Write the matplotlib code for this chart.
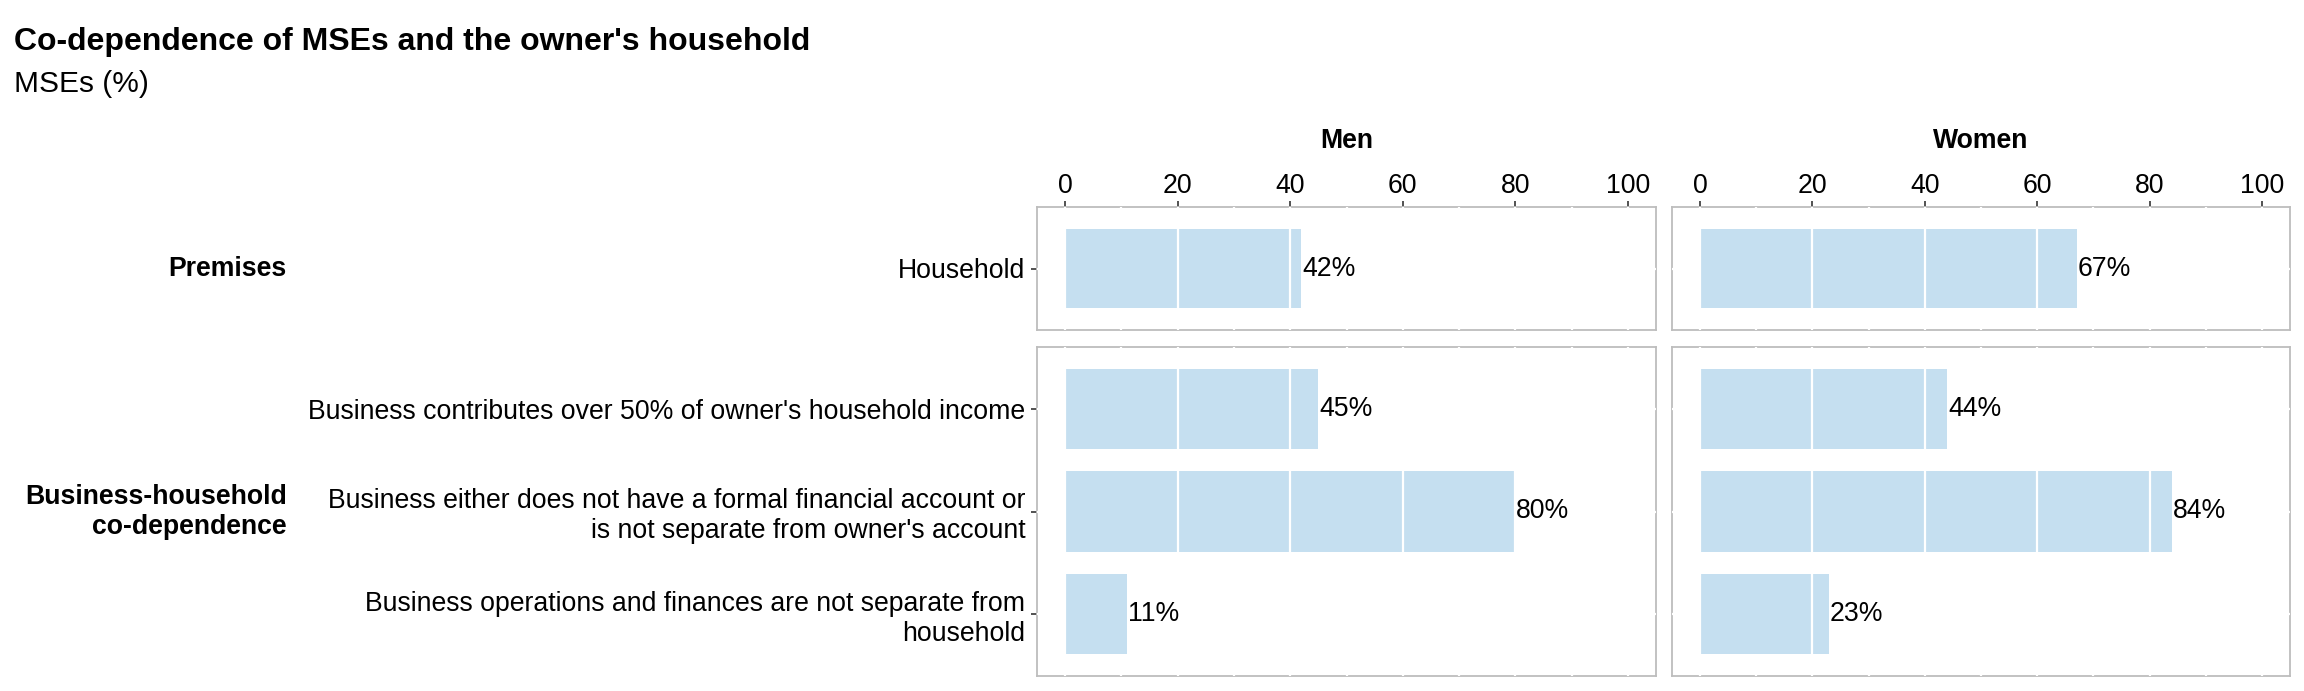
import numpy as np
import matplotlib
matplotlib.use("Agg")
import matplotlib.pyplot as plt

plt.rcParams["font.family"] = ["Liberation Sans", "DejaVu Sans"]

# data
categories = [
    "Household",
    "Business contributes over 50% of owner's household income",
    "Business either does not have a formal financial account or\nis not separate from owner's account",
    "Business operations and finances are not separate from\nhousehold",
]
category_group = [
    "Premises",
    "Business-household\nco-dependence",
    "Business-household\nco-dependence",
    "Business-household\nco-dependence",
]
groups = ["Premises", "Business-household\nco-dependence"]
sexes = ["Men", "Women"]
men_pct = [42, 45, 80, 11]
women_pct = [67, 44, 84, 23]

title = "Co-dependence of MSEs and the owner's household"
subtitle = "MSEs (%)"

BAR = "#c5dff0"
BORDER = "#bdbdbd"
TICK = "#333333"
FS = 19.2
W, H = 2304, 691

fig = plt.figure(figsize=(W / 100, H / 100), dpi=100)


def px_axes(x0, y0, x1, y1):
    # pixel box (top-left origin) -> figure axes
    return fig.add_axes([x0 / W, 1 - y1 / H, (x1 - x0) / W, (y1 - y0) / H])


col_px = [(1037, 1656), (1672, 2290)]
row_px = [(207, 330), (347, 676)]
values = {"Men": men_pct, "Women": women_pct}

for ci, sex in enumerate(sexes):
    for ri, grp in enumerate(groups):
        idx = [i for i, g in enumerate(category_group) if g == grp]
        labels = [categories[i] for i in idx]
        vals = [values[sex][i] for i in idx]
        ax = px_axes(col_px[ci][0], row_px[ri][0], col_px[ci][1], row_px[ri][1])
        pos = np.arange(len(idx))
        ax.barh(pos, vals, height=0.78, color=BAR, zorder=2.7)
        for p, v in zip(pos, vals):
            ax.annotate(f"{v}%", (v, p), xytext=(0.5, 0), textcoords="offset points",
                        va="center", ha="left", fontsize=FS, color="black", zorder=5)
        ax.set_xlim(-5, 105)
        ax.set_ylim(len(idx) - 0.4, -0.6)

        for s in ax.spines.values():
            s.set_color(BORDER)
            s.set_linewidth(1.3)
        # white grid drawn over the frame, majors also over the bars
        for x in np.arange(10, 100, 20):
            ax.axvline(x, color="white", lw=1.6, zorder=2.6)
        for x in np.arange(0, 101, 20):
            ax.axvline(x, color="white", lw=1.6, zorder=2.8)
        for p in pos:
            ax.axhline(p, color="white", lw=1.6, zorder=2.6)

        ax.xaxis.set_ticks_position("top")
        ax.set_xticks(np.arange(0, 101, 20))
        ax.tick_params(axis="x", length=4.5, width=1.2, color=TICK, pad=1.5,
                       labelsize=FS, labelcolor="black")
        if ri > 0:
            ax.tick_params(axis="x", length=0, labeltop=False)
        ax.set_yticks(pos)
        if ci == 0:
            ax.set_yticklabels(labels, fontsize=FS, linespacing=1.2)
            ax.tick_params(axis="y", length=4.5, width=1.2, color=TICK, pad=4)
        else:
            ax.set_yticklabels([])
            ax.tick_params(axis="y", length=0)

        if ci == 0:
            yc = 1 - (row_px[ri][0] + row_px[ri][1]) / 2 / H
            fig.text(287 / W, yc, grp, ha="right", va="center", fontsize=FS,
                     fontweight="bold", linespacing=1.2)
    fig.text((col_px[ci][0] + col_px[ci][1]) / 2 / W, 1 - 141 / H, sex,
             ha="center", va="center", fontsize=FS, fontweight="bold")

fig.text(14 / W, 1 - 50 / H, title, ha="left", va="baseline", fontsize=23,
         fontweight="bold")
fig.text(14 / W, 1 - 92 / H, subtitle, ha="left", va="baseline", fontsize=21.5)

fig.savefig("out.png", dpi=100)
